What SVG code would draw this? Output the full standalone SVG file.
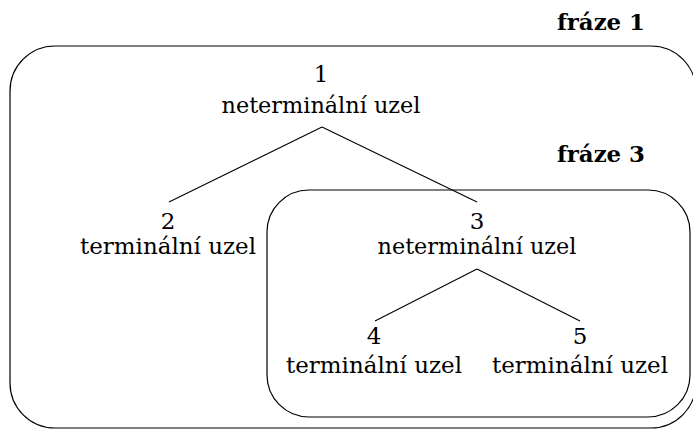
<svg xmlns="http://www.w3.org/2000/svg" width="693" height="430" viewBox="0 0 693 430">
<style>
text{font-family:'DejaVu Serif',serif;font-size:23px;fill:#000;text-anchor:middle}
.b{font-weight:bold;text-anchor:end;font-size:22px}
.box{fill:none;stroke:#000;stroke-width:1.2}
.e{stroke:#000;stroke-width:1.1}
</style>
<rect id="phrase1" class="box" x="10" y="46" width="686" height="382" rx="45"/>
<rect id="phrase3" class="box" x="267" y="190" width="423" height="227" rx="42"/>
<text class="b" x="645" y="30" textLength="88" lengthAdjust="spacingAndGlyphs">fráze 1</text>
<text class="b" x="645" y="162" textLength="88" lengthAdjust="spacingAndGlyphs">fráze 3</text>
<g id="connectors">
<line class="e" x1="322" y1="127" x2="169" y2="202"/>
<line class="e" x1="322" y1="127" x2="477" y2="202"/>
<line class="e" x1="477" y1="269" x2="375" y2="321"/>
<line class="e" x1="477" y1="269" x2="580" y2="321"/>
</g>
<g id="n1"><text x="321" y="82">1</text><text x="321" y="113" textLength="199" lengthAdjust="spacingAndGlyphs">neterminální uzel</text></g>
<g id="n2"><text x="168" y="229">2</text><text x="168" y="254" textLength="176" lengthAdjust="spacingAndGlyphs">terminální uzel</text></g>
<g id="n3"><text x="477" y="229">3</text><text x="477" y="254" textLength="199" lengthAdjust="spacingAndGlyphs">neterminální uzel</text></g>
<g id="n4"><text x="374" y="344">4</text><text x="374" y="373" textLength="176" lengthAdjust="spacingAndGlyphs">terminální uzel</text></g>
<g id="n5"><text x="580" y="344">5</text><text x="580" y="373" textLength="176" lengthAdjust="spacingAndGlyphs">terminální uzel</text></g>
</svg>
